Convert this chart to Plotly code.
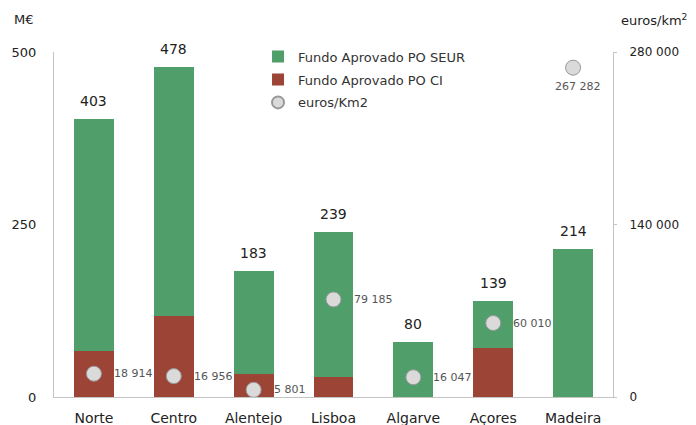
import plotly.graph_objects as go

regions = ["Norte", "Centro", "Alentejo", "Lisboa", "Algarve", "Açores", "Madeira"]
total_fund = [403, 478, 183, 239, 80, 139, 214]
po_ci = [66, 117, 33, 29, 0, 71, 0]
po_seur = [t - c for t, c in zip(total_fund, po_ci)]
euros_km2 = [18914, 16956, 5801, 79185, 16047, 60010, 267282]

left_ticks = [0, 250, 500]
right_ticks = [0, 140000, 280000]

GREEN = "#509e69"
RED = "#9c4436"
FONT = "DejaVu Sans"


def fmt(v):
    return f"{v:,}".replace(",", " ")


fig = go.Figure()
fig.add_trace(go.Bar(x=regions, y=po_ci, name="Fundo Aprovado PO CI",
                     marker=dict(color=RED, line=dict(width=0)),
                     legendrank=2, legendgroup="b"))
fig.add_trace(go.Bar(x=regions, y=po_seur, name="Fundo Aprovado PO SEUR",
                     marker=dict(color=GREEN, line=dict(width=0)),
                     legendrank=1, legendgroup="a"))
fig.add_trace(go.Scatter(x=regions, y=euros_km2, name="euros/Km2", yaxis="y2",
                         mode="markers",
                         marker=dict(size=15, color="#dadada",
                                     line=dict(color="#999999", width=1)),
                         legendrank=3, legendgroup="c"))

annotations = []
for r, t in zip(regions, total_fund):
    annotations.append(dict(x=r, y=t, xref="x", yref="y", text=str(t),
                            showarrow=False, yanchor="bottom", yshift=8,
                            font=dict(family=FONT, size=14, color="#222222")))
for r, v in zip(regions, euros_km2):
    if v > 200000:
        annotations.append(dict(x=r, y=v, xref="x", yref="y2", text=fmt(v),
                                showarrow=False, yanchor="top", xanchor="center",
                                yshift=-10, xshift=5,
                                font=dict(family=FONT, size=11, color="#555555")))
    else:
        annotations.append(dict(x=r, y=v, xref="x", yref="y2", text=fmt(v),
                                showarrow=False, yanchor="middle", xanchor="left",
                                xshift=18,
                                font=dict(family=FONT, size=11, color="#555555")))
annotations.append(dict(xref="paper", yref="paper", x=-0.075, y=1.093, xanchor="left",
                        yanchor="middle", text="M€", showarrow=False,
                        font=dict(family=FONT, size=13, color="#222222")))
annotations.append(dict(xref="paper", yref="paper", x=1.01, y=1.093, xanchor="left",
                        yanchor="middle", text="euros/km<sup>2</sup>", showarrow=False,
                        font=dict(family=FONT, size=13, color="#222222")))

fig.update_layout(
    annotations=annotations,
    width=688, height=417,
    margin=dict(l=46, r=83, t=44, b=28, autoexpand=False),
    paper_bgcolor="white", plot_bgcolor="white",
    barmode="stack", bargap=0.5,
    font=dict(family=FONT, size=13, color="#222222"),
    showlegend=True,
    legend=dict(x=0.365, y=1.03, xanchor="left", yanchor="top",
                bgcolor="rgba(0,0,0,0)", font=dict(family=FONT, size=13, color="#333333"),
                tracegroupgap=3, itemsizing="constant"),
    xaxis=dict(showline=True, linecolor="#c4c4c4", linewidth=1, showgrid=False,
               ticks="", ticklabelstandoff=8,
               tickfont=dict(family=FONT, size=14, color="#222222")),
    yaxis=dict(range=[0, 500], tickvals=left_ticks, showgrid=False, zeroline=False,
               showline=True, linecolor="#c4c4c4", linewidth=1, ticks="",
               ticklabelstandoff=14,
               tickfont=dict(family=FONT, size=13, color="#222222")),
    yaxis2=dict(range=[0, 280000], tickvals=right_ticks,
                ticktext=[fmt(v) for v in right_ticks],
                overlaying="y", side="right", showgrid=False, zeroline=False,
                showline=True, linecolor="#c4c4c4", linewidth=1,
                ticks="outside", ticklen=3, tickcolor="#c4c4c4",
                ticklabelstandoff=10,
                tickfont=dict(family=FONT, size=12, color="#222222")),
)

fig.write_html("out.html")
